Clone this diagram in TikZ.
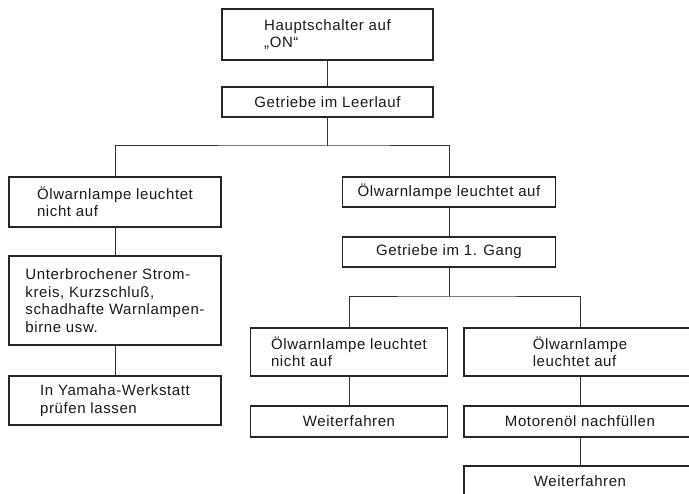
\documentclass[tikz,border=0pt]{standalone}
\usepackage{fontspec}
\setmainfont{Liberation Sans}[LetterSpace=4]
\begin{document}
\begin{tikzpicture}[x=1pt,y=-1pt,
 box/.style={draw=black!85, line width=1.4pt, inner sep=0pt, align=left,
   font=\fontsize{15}{17.5}\selectfont, text=black!90},
 conn/.style={draw=black!80, line width=1pt}]
\useasboundingbox (0,0) rectangle (689,494);
\clip (0,0) rectangle (689,494);
\node[box, minimum width=211pt, minimum height=51pt] (a) at (327.5,34.5) {Hauptschalter auf\\„ON“};
\node[box, minimum width=211pt, minimum height=30pt] (b) at (327.5,102) {Getriebe im Leerlauf};
\node[box, minimum width=212pt, minimum height=50pt] (l1) at (115,202) {Ölwarnlampe leuchtet\\nicht auf};
\node[box, minimum width=212pt, minimum height=89pt] (l2) at (115,300.5) {Unterbrochener Strom-\\kreis, Kurzschluß,\\schadhafte Warnlampen-\\birne usw.};
\node[box, minimum width=212pt, minimum height=49pt] (l3) at (115,400.5) {In Yamaha-Werkstatt\\prüfen lassen};
\node[box, minimum width=213pt, minimum height=30pt] (r1) at (449,192) {Ölwarnlampe leuchtet auf};
\node[box, minimum width=213pt, minimum height=30pt] (r2) at (449,252) {Getriebe im 1. Gang};
\node[box, minimum width=197pt, minimum height=48pt] (m1) at (349,352) {Ölwarnlampe leuchtet\\nicht auf};
\node[box, minimum width=197pt, minimum height=31pt] (m2) at (349,421.5) {Weiterfahren};
\node[box, minimum width=232pt, minimum height=48pt] (f1) at (580,352) {Ölwarnlampe\\leuchtet auf};
\node[box, minimum width=232pt, minimum height=31pt] (f2) at (580,421.5) {Motorenöl nachfüllen};
\node[box, minimum width=232pt, minimum height=31pt] (f3) at (580,481.5) {Weiterfahren};
\coordinate (s1) at (327.5,146);
\coordinate (s2) at (449,297);
\draw[conn] (a) -- (b);
\draw[conn] (b.south) -- (s1);
\draw[conn] (l1.north) |- (s1) -| (r1.north);
\draw[conn] (l1) -- (l2);
\draw[conn] (l2) -- (l3);
\draw[conn] (r1) -- (r2);
\draw[conn] (r2.south) -- (s2);
\draw[conn] (m1.north) |- (s2) -| (f1.north);
\draw[conn] (m1) -- (m2);
\draw[conn] (f1) -- (f2);
\draw[conn] (f2) -- (f3);
\end{tikzpicture}
\end{document}
